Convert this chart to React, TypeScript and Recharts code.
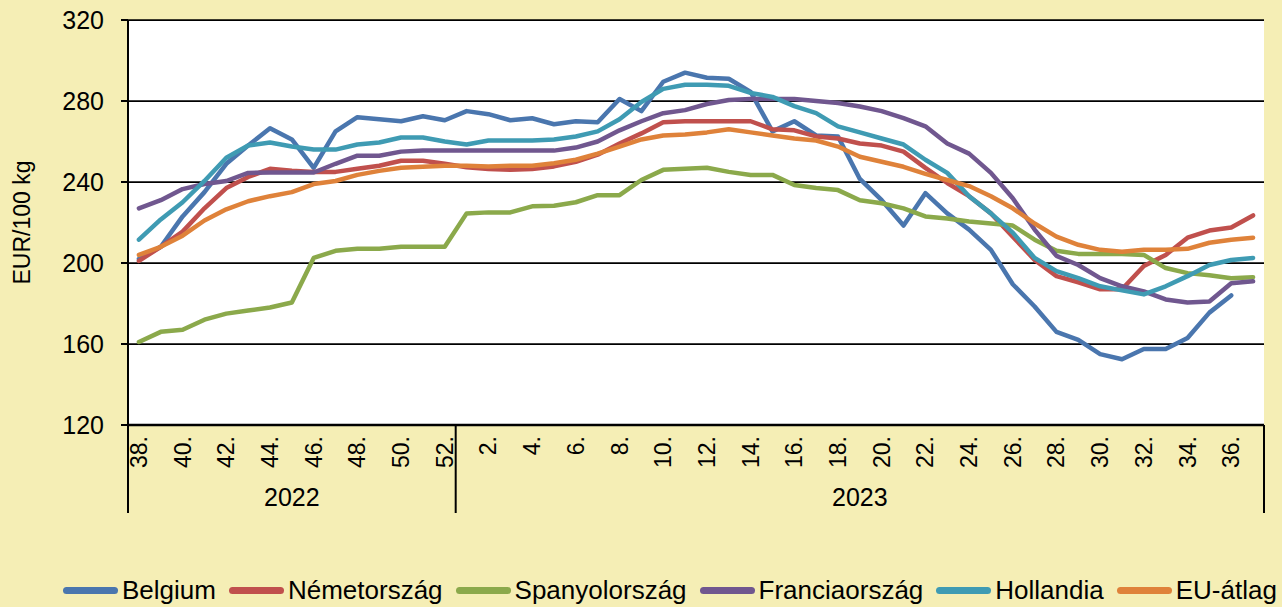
import { CartesianGrid, Legend, Line, LineChart, XAxis, YAxis } from "recharts";

const WEEKS_2022 = [38, 39, 40, 41, 42, 43, 44, 45, 46, 47, 48, 49, 50, 51, 52];
const WEEKS_2023 = [
  1, 2, 3, 4, 5, 6, 7, 8, 9, 10, 11, 12, 13, 14, 15, 16, 17, 18, 19, 20, 21, 22,
  23, 24, 25, 26, 27, 28, 29, 30, 31, 32, 33, 34, 35, 36, 37,
];

const BELGIUM = [
  202, 208, 223, 235, 249, 258, 266.5, 261, 247, 265, 272, 271, 270, 272.5, 270.5,
  275, 273.5, 270.5, 271.5, 268.5, 270, 269.5, 281, 275, 289.5, 294, 291.5, 291,
  284.5, 265, 270, 263, 262.5, 241.5, 231, 218.5, 234.5, 224.5, 216.5, 206.5, 189.5,
  178.5, 166, 162, 155, 152.5, 157.5, 157.5, 163, 175.5, 184, null,
];
const NEMETORSZAG = [
  201, 208, 215.5, 227, 237, 242.5, 246.5, 245.5, 245, 245, 246.5, 248, 250.5, 250.5,
  249, 247.3, 246.4, 246, 246.4, 247.7, 250, 253.5, 259, 264, 269.5, 270, 270, 270,
  270, 266, 265.5, 262.5, 261.5, 259, 258, 255, 247, 239.5, 233, 224.5, 213, 201.5,
  193.5, 190.5, 187, 187, 198.5, 204, 212.5, 216, 217.5, 223.5,
];
const SPANYOLORSZAG = [
  161, 166, 167, 172, 175, 176.5, 178, 180.5, 202.5, 206, 207, 207, 208, 208, 208,
  224.5, 225, 225, 228, 228.3, 230, 233.5, 233.5, 241, 246, 246.5, 247, 245, 243.5,
  243.5, 238.5, 237, 236, 231, 229.5, 227, 223, 222, 220.5, 219.5, 218.5, 211.5, 206,
  204.5, 204.5, 204.5, 204, 197.5, 195, 194, 192.5, 193,
];
const FRANCIAORSZAG = [
  227, 231, 236.5, 239, 240.5, 244.5, 244.7, 244.7, 244.7, 249, 253, 253, 255, 255.5,
  255.5, 255.5, 255.5, 255.5, 255.5, 255.5, 257, 260, 265.5, 270, 274, 275.5, 278.5,
  280.5, 281, 281, 281, 280, 279, 277.3, 275, 271.5, 267.5, 259, 254, 244.5, 232,
  216.5, 203.5, 199, 192.5, 188.5, 186, 182, 180.5, 181, 190, 191,
];
const HOLLANDIA = [
  211.5, 221.5, 230, 240.5, 252, 258, 259.5, 257.5, 256, 256, 258.5, 259.5, 262, 262,
  260, 258.5, 260.5, 260.5, 260.5, 261, 262.5, 265, 271, 279.5, 286, 288, 288, 287.5,
  284, 282, 277.5, 274, 267.5, 264.5, 261.5, 258.5, 251, 244.5, 233, 224.5, 215,
  202.5, 196, 192.5, 188.5, 186.5, 184.5, 188.5, 193.5, 199, 201.5, 202.5,
];
const EU_ATLAG = [
  204, 208, 213.5, 221, 226.5, 230.5, 233, 235, 239, 240.5, 243.5, 245.5, 247, 247.5,
  248, 248, 247.7, 248, 248, 249.3, 251, 254, 257.5, 261, 263, 263.5, 264.5, 266,
  264.5, 263, 261.5, 260.5, 257.5, 252.5, 250, 247.5, 244, 241, 238, 233, 227, 219.5,
  213, 209, 206.5, 205.5, 206.5, 206.5, 207, 210, 211.5, 212.5,
];

const Y_TICKS = [120, 160, 200, 240, 280, 320];

const SERIES = [
  { name: "Belgium", values: BELGIUM, color: "#4A76AE" },
  { name: "Németország", values: NEMETORSZAG, color: "#C0504D" },
  { name: "Spanyolország", values: SPANYOLORSZAG, color: "#8BA94B" },
  { name: "Franciaország", values: FRANCIAORSZAG, color: "#70578F" },
  { name: "Hollandia", values: HOLLANDIA, color: "#3F9BB3" },
  { name: "EU-átlag", values: EU_ATLAG, color: "#DF823A" },
];

const rows = [
  ...WEEKS_2022.map((w) => ({ year: "2022", week: w })),
  ...WEEKS_2023.map((w) => ({ year: "2023", week: w })),
].map((r, i) => {
  const row: Record<string, any> = { key: `${r.year}-${r.week}`, ...r };
  SERIES.forEach((s) => (row[s.name] = s.values[i]));
  return row;
});

const W = 1282;
const H = 607;
const MARGIN = { top: 20, right: 18, left: 0, bottom: 0 };
const Y_W = 128;
const PLOT_W = W - MARGIN.left - MARGIN.right - Y_W;
const STEP = PLOT_W / rows.length;
const FONT = "'Liberation Sans', Arial, sans-serif";

// week numbers (every 2nd), year group labels and the group separators
function WeekTick(props: any) {
  const { x, y, index } = props;
  const row = rows[index];
  const out: any[] = [];
  if (row.week % 2 === 0) {
    out.push(
      <text
        key="w"
        x={x}
        y={y + 11}
        transform={`rotate(-90, ${x}, ${y + 11})`}
        textAnchor="end"
        dominantBaseline="central"
        fontSize={23}
        fill="#000"
        fontFamily={FONT}
      >
        {row.week}.
      </text>
    );
  }
  const first = index === 0 || rows[index - 1].year !== row.year;
  if (first) {
    out.push(<line key="s" x1={x - STEP / 2} x2={x - STEP / 2} y1={y} y2={y + 88} stroke="#000" strokeWidth={2} />);
  }
  if (index === rows.length - 1) {
    out.push(<line key="e" x1={x + STEP / 2} x2={x + STEP / 2} y1={y} y2={y + 88} stroke="#000" strokeWidth={2} />);
  }
  const group = rows.filter((r) => r.year === row.year);
  const start = rows.findIndex((r) => r.year === row.year);
  const mid = start + (group.length - 1) / 2;
  if (Math.floor(mid) === index) {
    const cx = mid === index ? x : x + STEP / 2;
    out.push(
      <text key="y" x={cx} y={y + 72} textAnchor="middle" dominantBaseline="central" fontSize={25} fill="#000" fontFamily={FONT}>
        {row.year}
      </text>
    );
  }
  return <g>{out}</g>;
}

function LegendBox() {
  return (
    <div
      style={{
        display: "flex",
        alignItems: "center",
        height: 34,
        paddingLeft: 63,
        fontFamily: FONT,
        fontSize: 26,
        color: "#000",
        whiteSpace: "nowrap",
      }}
    >
      {SERIES.map((s) => (
        <span key={s.name} style={{ display: "flex", alignItems: "center", marginRight: 13 }}>
          <span style={{ display: "inline-block", width: 55, height: 7, borderRadius: 4, background: s.color, marginRight: 4 }} />
          {s.name}
        </span>
      ))}
    </div>
  );
}

export default function App() {
  return (
    <div style={{ width: W, height: H, background: "#F5EEB5" }}>
      <style>{"body{margin:0}"}</style>
      <LineChart width={W} height={H} data={rows} margin={MARGIN}>
        <CartesianGrid vertical={false} stroke="#000" strokeWidth={1.75} fill="#fff" />
        <XAxis
          dataKey="key"
          interval={0}
          padding={{ left: STEP / 2, right: STEP / 2 }}
          tickLine={false}
          tickSize={0}
          tickMargin={0}
          height={148}
          axisLine={{ stroke: "#000", strokeWidth: 2.5 }}
          tick={(p: any) => <WeekTick {...p} />}
        />
        <YAxis
          domain={[120, 320]}
          ticks={Y_TICKS}
          width={Y_W}
          tickSize={7}
          tickMargin={17}
          axisLine={{ stroke: "#000", strokeWidth: 2 }}
          tickLine={{ stroke: "#000", strokeWidth: 2 }}
          tick={{ fontSize: 25, fill: "#000", fontFamily: FONT }}
          label={{
            content: (p: any) => {
              const vb = p.viewBox;
              const cx = 22;
              const cy = vb.y + vb.height / 2;
              return (
                <text
                  x={cx}
                  y={cy}
                  transform={`rotate(-90, ${cx}, ${cy})`}
                  textAnchor="middle"
                  dominantBaseline="central"
                  fontSize={23}
                  fill="#000"
                  fontFamily={FONT}
                >
                  EUR/100 kg
                </text>
              );
            },
          }}
        />
        <Legend verticalAlign="bottom" content={() => <LegendBox />} />
        {SERIES.map((s) => (
          <Line
            key={s.name}
            type="linear"
            dataKey={s.name}
            stroke={s.color}
            strokeWidth={4.5}
            strokeLinejoin="round"
            strokeLinecap="round"
            dot={false}
            activeDot={false}
            isAnimationActive={false}
          />
        ))}
      </LineChart>
    </div>
  );
}
